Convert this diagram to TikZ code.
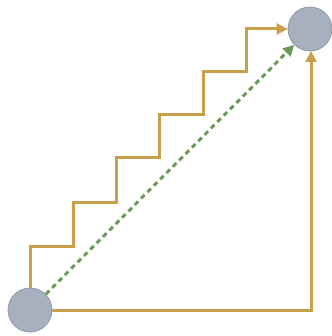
\documentclass[tikz,border=0pt]{standalone}
\usetikzlibrary{arrows.meta}
\definecolor{gold}{HTML}{C9A04A}
\definecolor{circfill}{HTML}{A6B0BE}
\definecolor{circline}{HTML}{8D99AA}
\definecolor{dgreen}{HTML}{6B9A5B}
\begin{document}
\begin{tikzpicture}[x=1pt,y=-1pt,
  endpt/.style={circle,fill=circfill,draw=circline,line width=0.8pt,minimum size=44pt,inner sep=0pt},
  goldline/.style={draw=gold,line width=3pt,-{Triangle[length=11pt,width=11pt]}},
  greenline/.style={draw=dgreen,line width=3pt,dash pattern=on 5pt off 4pt,-{Triangle[length=11pt,width=11pt]}}]
\useasboundingbox (0,0) rectangle (331,336);
\node[endpt] (s) at (30,310) {};
\node[endpt] (t) at (310,29) {};
\coordinate (c) at (311,310);
\coordinate (e) at (311,51);
\draw[goldline] (s.north) -- (30,246) -- (73,246) -- (73,202) -- (116,202) -- (116,158) -- (159,158) -- (159,115) -- (203,115) -- (203,72) -- (246,72) -- (246,29) -- (t.west);
\draw[goldline] (s.east) -- (c) -- (e);
\draw[greenline] (s) -- (t);
\end{tikzpicture}
\end{document}
